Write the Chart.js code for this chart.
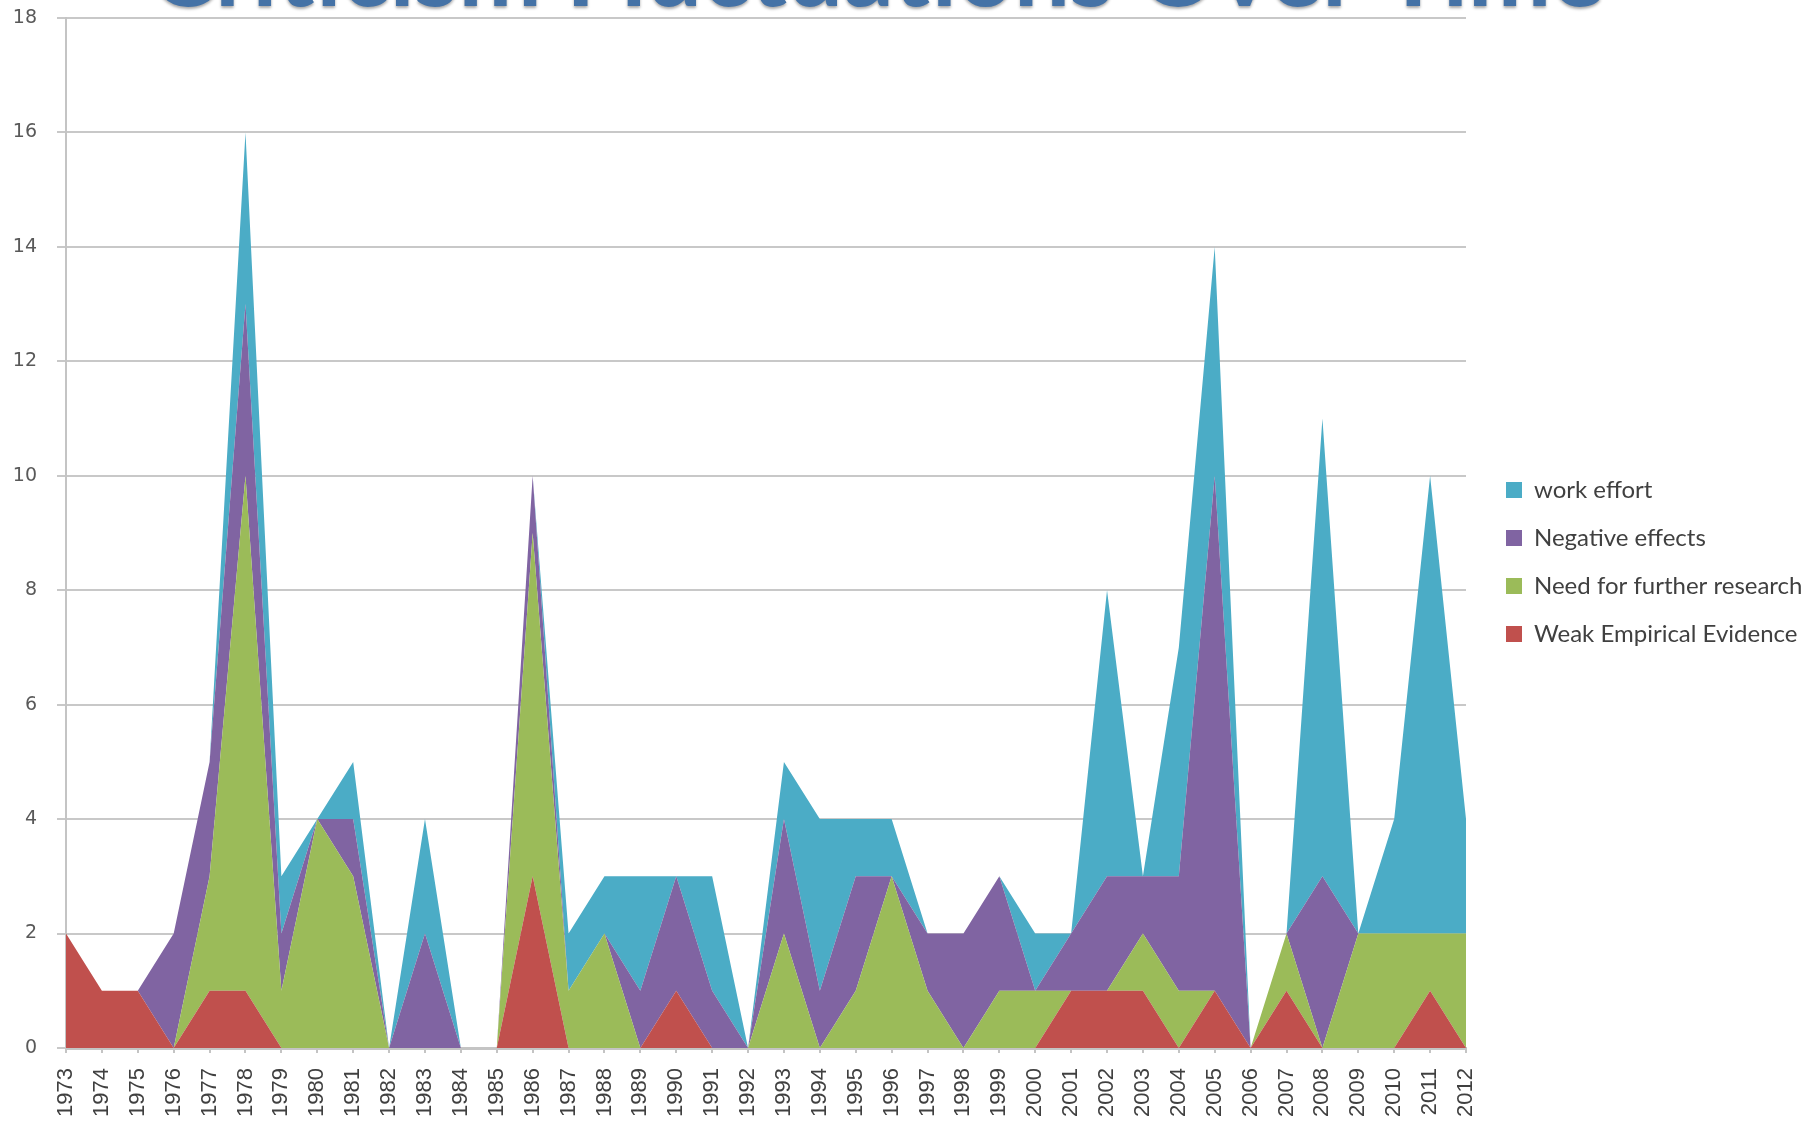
<!DOCTYPE html>
<html>
<head>
<meta charset="utf-8">
<title>Criticism Fluctuations Over Time</title>
<script src="https://cdn.jsdelivr.net/npm/chart.js@4.4.1/dist/chart.umd.min.js"></script>
<style>
  html, body { margin: 0; padding: 0; background: #fff; overflow: hidden; }
  #wrap { position: relative; width: 1810px; height: 1122px; }
</style>
</head>
<body>
<div id="wrap"><canvas id="criticismChart" width="1810" height="1122"></canvas></div>
<script>
// Jaren op de x-as
const years = [
  '1973', '1974', '1975', '1976', '1977', '1978', '1979', '1980', '1981', '1982',
  '1983', '1984', '1985', '1986', '1987', '1988', '1989', '1990', '1991', '1992',
  '1993', '1994', '1995', '1996', '1997', '1998', '1999', '2000', '2001', '2002',
  '2003', '2004', '2005', '2006', '2007', '2008', '2009', '2010', '2011', '2012'
];

// Waarden per reeks (gestapeld, onderste reeks eerst)
const weakEvidence = [2, 1, 1, 0, 1, 1, 0, 0, 0, 0, 0, 0, 0, 3, 0, 0, 0, 1, 0, 0,
                      0, 0, 0, 0, 0, 0, 0, 0, 1, 1, 1, 0, 1, 0, 1, 0, 0, 0, 1, 0];
const furtherResearch = [0, 0, 0, 0, 2, 9, 1, 4, 3, 0, 0, 0, 0, 6, 1, 2, 0, 0, 0, 0,
                         2, 0, 1, 3, 1, 0, 1, 1, 0, 0, 1, 1, 0, 0, 1, 0, 2, 2, 1, 2];
const negativeEffects = [0, 0, 0, 2, 2, 3, 1, 0, 1, 0, 2, 0, 0, 1, 0, 0, 1, 2, 1, 0,
                         2, 1, 2, 0, 1, 2, 2, 0, 1, 2, 1, 2, 9, 0, 0, 3, 0, 0, 0, 0];
const workEffort = [0, 0, 0, 0, 0, 3, 1, 0, 1, 0, 2, 0, 0, 0, 1, 1, 2, 0, 2, 0,
                    1, 3, 1, 1, 0, 0, 0, 1, 0, 5, 0, 4, 4, 0, 0, 8, 0, 2, 8, 2];

const yTicks = [0, 2, 4, 6, 8, 10, 12, 14, 16, 18];
const chartTitle = 'Criticism Fluctuations Over Time';

// plotgebied: links 66, boven 18, rechts 1466, onder 1048
const LEGEND_PAD = 24;

// Titel staat half buiten beeld, zoals in het origineel
const cutTitle = {
  id: 'cutTitle',
  afterDraw(chart) {
    const ctx = chart.ctx;
    ctx.save();
    let size = 84;
    ctx.font = 'bold ' + size + 'px Lato';
    const w = ctx.measureText(chartTitle).width;
    size = size * 1455 / w;
    ctx.font = 'bold ' + size + 'px Lato';
    ctx.fillStyle = '#4472a6';
    ctx.textAlign = 'center';
    ctx.textBaseline = 'alphabetic';
    ctx.shadowColor = 'rgba(0,0,0,0.35)';
    ctx.shadowOffsetY = 2;
    ctx.shadowBlur = 3;
    ctx.fillText(chartTitle, 877, 6);
    ctx.restore();
  }
};

// Legenda iets losser van het plotgebied
const legendGap = {
  id: 'legendGap',
  beforeLayout(chart) {
    const lg = chart.legend;
    if (lg && !lg._gapPatched) {
      const fit = lg.fit;
      lg.fit = function () { fit.call(this); this.width = 1810 - 1466; };
      lg._gapPatched = true;
    }
  },
  afterLayout(chart) {
    const lg = chart.legend;
    if (lg) {
      lg.left = 1506 - LEGEND_PAD;
      lg.right = 1810;
      lg.top -= 8;
      lg.bottom -= 8;
    }
  }
};

function series(label, data, color, fill) {
  return {
    label: label,
    data: data,
    backgroundColor: color,
    borderColor: color,
    borderWidth: 0,
    pointRadius: 0,
    pointHoverRadius: 0,
    tension: 0,
    fill: fill
  };
}

new Chart(document.getElementById('criticismChart'), {
  type: 'line',
  data: {
    labels: years,
    datasets: [
      series('Weak Empirical Evidence', weakEvidence, '#c0504d', 'origin'),
      series('Need for further research', furtherResearch, '#9bbb59', '-1'),
      series('Negative effects', negativeEffects, '#8064a2', '-1'),
      series('work effort', workEffort, '#4bacc6', '-1')
    ]
  },
  options: {
    responsive: false,
    animation: false,
    events: [],
    layout: { padding: { left: 0, top: 18, right: 0, bottom: 0 } },
    scales: {
      x: {
        offset: false,
        afterFit(axis) { axis.height = 1122 - 1048; axis.paddingLeft = 0; axis.paddingRight = 0; },
        grid: { display: true, drawOnChartArea: false, tickLength: 5, color: '#c4c4c4', lineWidth: 2 },
        border: { color: '#c4c4c4', width: 3 },
        ticks: {
          autoSkip: false, maxRotation: 90, minRotation: 90, padding: 15,
          color: '#404040', font: { family: 'Liberation Sans', size: 22 }
        }
      },
      y: {
        stacked: true,
        min: 0,
        max: 18,
        afterBuildTicks(axis) { axis.ticks = yTicks.map(v => ({ value: v })); },
        afterFit(axis) { axis.width = 66; axis.paddingTop = 0; axis.paddingBottom = 0; },
        grid: { color: '#c8c8c8', lineWidth: 2, tickLength: 9 },
        border: { color: '#c4c4c4', width: 2 },
        ticks: {
          padding: 20,
          color: '#595959', font: { family: 'DejaVu Sans', size: 19 }
        }
      }
    },
    plugins: {
      legend: {
        position: 'right',
        align: 'center',
        reverse: true,
        labels: {
          boxWidth: 16, boxHeight: 16, padding: LEGEND_PAD,
          color: '#404040', font: { family: 'Lato', size: 24 }
        }
      },
      title: { display: false },
      tooltip: { enabled: false }
    }
  },
  plugins: [cutTitle, legendGap]
});
</script>
</body>
</html>
